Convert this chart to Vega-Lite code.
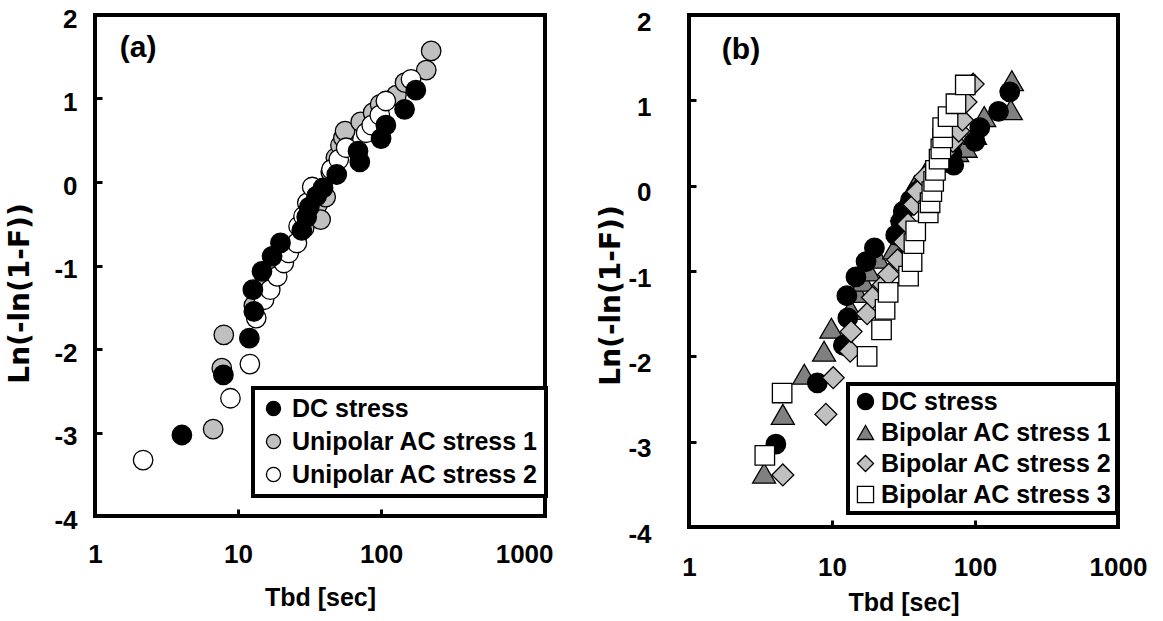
{
  "$schema": "https://vega.github.io/schema/vega-lite/v6.json",
  "background": "white",
  "padding": {"left": 4, "top": 4, "right": 0, "bottom": 0},
  "bounds": "flush",
  "spacing": 144,
  "datasets": {
    "a": [
      {"series": "Unipolar AC stress 1", "t": 6.7, "y": -2.96},
      {"series": "Unipolar AC stress 1", "t": 7.7, "y": -2.23},
      {"series": "Unipolar AC stress 1", "t": 7.95, "y": -1.83},
      {"series": "Unipolar AC stress 1", "t": 12.9, "y": -1.48},
      {"series": "Unipolar AC stress 1", "t": 15.3, "y": -1.12},
      {"series": "Unipolar AC stress 1", "t": 29, "y": -0.55},
      {"series": "Unipolar AC stress 1", "t": 33, "y": -0.35},
      {"series": "Unipolar AC stress 1", "t": 36, "y": -0.27},
      {"series": "Unipolar AC stress 1", "t": 37.8, "y": -0.45},
      {"series": "Unipolar AC stress 1", "t": 41, "y": -0.18},
      {"series": "Unipolar AC stress 1", "t": 44.5, "y": 0.12},
      {"series": "Unipolar AC stress 1", "t": 48.3, "y": 0.29},
      {"series": "Unipolar AC stress 1", "t": 52, "y": 0.44},
      {"series": "Unipolar AC stress 1", "t": 54.5, "y": 0.53},
      {"series": "Unipolar AC stress 1", "t": 56, "y": 0.61},
      {"series": "Unipolar AC stress 1", "t": 72, "y": 0.72},
      {"series": "Unipolar AC stress 1", "t": 88, "y": 0.83},
      {"series": "Unipolar AC stress 1", "t": 98.5, "y": 0.93},
      {"series": "Unipolar AC stress 1", "t": 128, "y": 1.04},
      {"series": "Unipolar AC stress 1", "t": 147, "y": 1.19},
      {"series": "Unipolar AC stress 1", "t": 207, "y": 1.34},
      {"series": "Unipolar AC stress 1", "t": 224, "y": 1.57},
      {"series": "Unipolar AC stress 2", "t": 2.17, "y": -3.33},
      {"series": "Unipolar AC stress 2", "t": 8.85, "y": -2.59},
      {"series": "Unipolar AC stress 2", "t": 12.1, "y": -2.18},
      {"series": "Unipolar AC stress 2", "t": 13.4, "y": -1.63},
      {"series": "Unipolar AC stress 2", "t": 15.2, "y": -1.41},
      {"series": "Unipolar AC stress 2", "t": 16.8, "y": -1.29},
      {"series": "Unipolar AC stress 2", "t": 18.8, "y": -1.13},
      {"series": "Unipolar AC stress 2", "t": 20.9, "y": -0.97},
      {"series": "Unipolar AC stress 2", "t": 22.6, "y": -0.85},
      {"series": "Unipolar AC stress 2", "t": 25.8, "y": -0.73},
      {"series": "Unipolar AC stress 2", "t": 26.5, "y": -0.53},
      {"series": "Unipolar AC stress 2", "t": 28.7, "y": -0.41},
      {"series": "Unipolar AC stress 2", "t": 30.5, "y": -0.25},
      {"series": "Unipolar AC stress 2", "t": 33, "y": -0.06},
      {"series": "Unipolar AC stress 2", "t": 45, "y": 0.15},
      {"series": "Unipolar AC stress 2", "t": 50.6, "y": 0.27},
      {"series": "Unipolar AC stress 2", "t": 57, "y": 0.41},
      {"series": "Unipolar AC stress 2", "t": 78.6, "y": 0.59},
      {"series": "Unipolar AC stress 2", "t": 86, "y": 0.68},
      {"series": "Unipolar AC stress 2", "t": 98, "y": 0.8},
      {"series": "Unipolar AC stress 2", "t": 108, "y": 0.97},
      {"series": "Unipolar AC stress 2", "t": 162, "y": 1.23},
      {"series": "DC stress", "t": 4.05, "y": -3.03},
      {"series": "DC stress", "t": 7.9, "y": -2.31},
      {"series": "DC stress", "t": 12.0, "y": -1.87},
      {"series": "DC stress", "t": 12.9, "y": -1.55},
      {"series": "DC stress", "t": 12.7, "y": -1.29},
      {"series": "DC stress", "t": 14.7, "y": -1.07},
      {"series": "DC stress", "t": 17.3, "y": -0.89},
      {"series": "DC stress", "t": 19.8, "y": -0.73},
      {"series": "DC stress", "t": 27.9, "y": -0.58},
      {"series": "DC stress", "t": 30.2, "y": -0.42},
      {"series": "DC stress", "t": 31.5, "y": -0.3},
      {"series": "DC stress", "t": 35.4, "y": -0.17},
      {"series": "DC stress", "t": 39.3, "y": -0.07},
      {"series": "DC stress", "t": 49, "y": 0.09},
      {"series": "DC stress", "t": 69, "y": 0.37},
      {"series": "DC stress", "t": 71, "y": 0.24},
      {"series": "DC stress", "t": 100, "y": 0.52},
      {"series": "DC stress", "t": 108, "y": 0.68},
      {"series": "DC stress", "t": 146, "y": 0.87},
      {"series": "DC stress", "t": 175, "y": 1.1}
    ],
    "b": [
      {"series": "Bipolar AC stress 1", "t": 3.35, "y": -3.37},
      {"series": "Bipolar AC stress 1", "t": 4.53, "y": -2.68},
      {"series": "Bipolar AC stress 1", "t": 6.4, "y": -2.21},
      {"series": "Bipolar AC stress 1", "t": 8.8, "y": -1.94},
      {"series": "Bipolar AC stress 1", "t": 9.9, "y": -1.67},
      {"series": "Bipolar AC stress 1", "t": 13.5, "y": -1.45},
      {"series": "Bipolar AC stress 1", "t": 15, "y": -1.25},
      {"series": "Bipolar AC stress 1", "t": 16.5, "y": -1.12},
      {"series": "Bipolar AC stress 1", "t": 18.1, "y": -1.0},
      {"series": "Bipolar AC stress 1", "t": 21, "y": -0.85},
      {"series": "Bipolar AC stress 1", "t": 27.2, "y": -0.74},
      {"series": "Bipolar AC stress 1", "t": 29, "y": -0.5},
      {"series": "Bipolar AC stress 1", "t": 31, "y": -0.3},
      {"series": "Bipolar AC stress 1", "t": 35, "y": -0.12},
      {"series": "Bipolar AC stress 1", "t": 38, "y": 0.0},
      {"series": "Bipolar AC stress 1", "t": 45, "y": 0.15},
      {"series": "Bipolar AC stress 1", "t": 55, "y": 0.28},
      {"series": "Bipolar AC stress 1", "t": 75, "y": 0.4},
      {"series": "Bipolar AC stress 1", "t": 86, "y": 0.45},
      {"series": "Bipolar AC stress 1", "t": 100, "y": 0.6},
      {"series": "Bipolar AC stress 1", "t": 116, "y": 0.81},
      {"series": "Bipolar AC stress 1", "t": 178, "y": 0.89},
      {"series": "Bipolar AC stress 1", "t": 181, "y": 1.23},
      {"series": "DC stress", "t": 4.05, "y": -3.03},
      {"series": "DC stress", "t": 7.9, "y": -2.31},
      {"series": "DC stress", "t": 12.0, "y": -1.87},
      {"series": "DC stress", "t": 12.9, "y": -1.55},
      {"series": "DC stress", "t": 12.7, "y": -1.29},
      {"series": "DC stress", "t": 14.7, "y": -1.07},
      {"series": "DC stress", "t": 17.3, "y": -0.89},
      {"series": "DC stress", "t": 19.8, "y": -0.73},
      {"series": "DC stress", "t": 27.9, "y": -0.58},
      {"series": "DC stress", "t": 30.2, "y": -0.42},
      {"series": "DC stress", "t": 31.5, "y": -0.3},
      {"series": "DC stress", "t": 35.4, "y": -0.17},
      {"series": "DC stress", "t": 39.3, "y": -0.07},
      {"series": "DC stress", "t": 49, "y": 0.09},
      {"series": "DC stress", "t": 69, "y": 0.37},
      {"series": "DC stress", "t": 71, "y": 0.24},
      {"series": "DC stress", "t": 100, "y": 0.52},
      {"series": "DC stress", "t": 108, "y": 0.68},
      {"series": "DC stress", "t": 146, "y": 0.87},
      {"series": "DC stress", "t": 175, "y": 1.1},
      {"series": "Bipolar AC stress 2", "t": 4.53, "y": -3.39},
      {"series": "Bipolar AC stress 2", "t": 9.06, "y": -2.68},
      {"series": "Bipolar AC stress 2", "t": 10.2, "y": -2.25},
      {"series": "Bipolar AC stress 2", "t": 13.4, "y": -1.94},
      {"series": "Bipolar AC stress 2", "t": 13.6, "y": -1.71},
      {"series": "Bipolar AC stress 2", "t": 17.6, "y": -1.5},
      {"series": "Bipolar AC stress 2", "t": 19.2, "y": -1.31},
      {"series": "Bipolar AC stress 2", "t": 22.9, "y": -1.16},
      {"series": "Bipolar AC stress 2", "t": 24.9, "y": -1.04},
      {"series": "Bipolar AC stress 2", "t": 28.8, "y": -0.87},
      {"series": "Bipolar AC stress 2", "t": 32, "y": -0.66},
      {"series": "Bipolar AC stress 2", "t": 34, "y": -0.45},
      {"series": "Bipolar AC stress 2", "t": 37.4, "y": -0.22},
      {"series": "Bipolar AC stress 2", "t": 39.6, "y": -0.07},
      {"series": "Bipolar AC stress 2", "t": 44.5, "y": 0.1},
      {"series": "Bipolar AC stress 2", "t": 55, "y": 0.25},
      {"series": "Bipolar AC stress 2", "t": 61, "y": 0.39},
      {"series": "Bipolar AC stress 2", "t": 70, "y": 0.52},
      {"series": "Bipolar AC stress 2", "t": 77, "y": 0.64},
      {"series": "Bipolar AC stress 2", "t": 81.7, "y": 0.77},
      {"series": "Bipolar AC stress 2", "t": 86.5, "y": 0.98},
      {"series": "Bipolar AC stress 2", "t": 97, "y": 1.19},
      {"series": "Bipolar AC stress 3", "t": 3.39, "y": -3.16},
      {"series": "Bipolar AC stress 3", "t": 4.48, "y": -2.43},
      {"series": "Bipolar AC stress 3", "t": 17.6, "y": -2.0},
      {"series": "Bipolar AC stress 3", "t": 22.2, "y": -1.69},
      {"series": "Bipolar AC stress 3", "t": 23.5, "y": -1.45},
      {"series": "Bipolar AC stress 3", "t": 24.7, "y": -1.25},
      {"series": "Bipolar AC stress 3", "t": 34.3, "y": -1.06},
      {"series": "Bipolar AC stress 3", "t": 36.3, "y": -0.89},
      {"series": "Bipolar AC stress 3", "t": 37.4, "y": -0.68},
      {"series": "Bipolar AC stress 3", "t": 38.5, "y": -0.53},
      {"series": "Bipolar AC stress 3", "t": 47.1, "y": -0.32},
      {"series": "Bipolar AC stress 3", "t": 48.5, "y": -0.2},
      {"series": "Bipolar AC stress 3", "t": 49.9, "y": -0.07},
      {"series": "Bipolar AC stress 3", "t": 51.4, "y": 0.05},
      {"series": "Bipolar AC stress 3", "t": 52.9, "y": 0.18},
      {"series": "Bipolar AC stress 3", "t": 56.1, "y": 0.31},
      {"series": "Bipolar AC stress 3", "t": 57.7, "y": 0.43},
      {"series": "Bipolar AC stress 3", "t": 59.4, "y": 0.56},
      {"series": "Bipolar AC stress 3", "t": 59.4, "y": 0.68},
      {"series": "Bipolar AC stress 3", "t": 64.8, "y": 0.81},
      {"series": "Bipolar AC stress 3", "t": 73.6, "y": 0.96},
      {"series": "Bipolar AC stress 3", "t": 85.5, "y": 1.18}
    ]
  },
  "hconcat": [
    {
      "width": 450,
      "height": 501,
      "layer": [
        {
          "data": {"name": "a"},
          "mark": {"type": "point", "filled": true, "strokeWidth": 1.3, "opacity": 1, "size": 380},
          "encoding": {
            "x": {"field": "t", "type": "quantitative",
              "scale": {"type": "log", "domain": [1, 1400], "nice": false},
              "axis": {"values": [1, 10, 100, 1000], "labelExpr": "'' + datum.value", "title": "Tbd [sec]", "labelPadding": 32, "titlePadding": 18,
                "tickOpacity": {"condition": {"test": "datum.value === 1000", "value": 0}, "value": 1}}},
            "y": {"field": "y", "type": "quantitative",
              "scale": {"domain": [-4, 2], "nice": false, "zero": false},
              "axis": {"values": [-4, -3, -2, -1, 0, 1, 2], "labelExpr": "'' + datum.value", "title": "Ln(-ln(1-F))", "titleFont": "DejaVu Sans", "titleFontSize": 28, "titleY": 278, "labelPadding": 25, "labelOffset": 4, "titlePadding": 19}},
            "fill": {"field": "series", "type": "nominal",
              "scale": {"domain": ["DC stress", "Unipolar AC stress 1", "Unipolar AC stress 2"], "range": ["black", "#c0c0c0", "white"]},
              "legend": {"orient": "none", "legendX": 158, "legendY": 373, "title": null, "padding": 8, "rowPadding": 7, "symbolSize": 200, "labelOffset": 6, "symbolStrokeWidth": 1.3}},
            "shape": {"field": "series", "type": "nominal",
              "scale": {"domain": ["DC stress", "Unipolar AC stress 1", "Unipolar AC stress 2"], "range": ["circle", "circle", "circle"]},
              "legend": {"orient": "none", "legendX": 158, "legendY": 373, "title": null, "padding": 8, "rowPadding": 7, "symbolSize": 200, "labelOffset": 6, "symbolStrokeWidth": 1.3}},
            "stroke": {"field": "series", "type": "nominal",
              "scale": {"domain": ["DC stress", "Unipolar AC stress 1", "Unipolar AC stress 2"], "range": ["black", "black", "black"]},
              "legend": {"orient": "none", "legendX": 158, "legendY": 373, "title": null, "padding": 8, "rowPadding": 7, "symbolSize": 200, "labelOffset": 6, "symbolStrokeWidth": 1.3}}
          }
        },
        {
          "data": {"values": [{}]},
          "mark": {"type": "text", "fontSize": 30, "fontWeight": "bold", "font": "Liberation Sans", "align": "center", "baseline": "middle", "color": "black"},
          "encoding": {"x": {"datum": 2.0}, "y": {"datum": 1.6}, "text": {"value": "(a)"}}
        }
      ]
    },
    {
      "width": 429,
      "height": 512,
      "layer": [
        {
          "data": {"name": "b"},
          "encoding": {
            "x": {"field": "t", "type": "quantitative",
              "scale": {"type": "log", "domain": [1, 1000], "nice": false},
              "axis": {"values": [1, 10, 100, 1000], "labelExpr": "'' + datum.value", "title": "Tbd [sec]", "labelPadding": 34, "titlePadding": 10}},
            "y": {"field": "y", "type": "quantitative",
              "scale": {"domain": [-4, 2], "nice": false, "zero": false},
              "axis": {"values": [-4, -3, -2, -1, 0, 1, 2], "labelExpr": "'' + datum.value", "title": "Ln(-ln(1-F))", "titleFont": "DejaVu Sans", "titleFontSize": 28, "titleY": 280, "labelPadding": 45, "labelOffset": 7, "titlePadding": 2}},
            "fill": {"field": "series", "type": "nominal",
              "scale": {"domain": ["DC stress", "Bipolar AC stress 1", "Bipolar AC stress 2", "Bipolar AC stress 3"], "range": ["black", "#808080", "#c0c0c0", "white"]},
              "legend": {"orient": "none", "legendX": 159, "legendY": 369, "title": null, "padding": 5, "rowPadding": 5, "symbolSize": 260, "labelOffset": 3, "symbolStrokeWidth": 1.3}},
            "shape": {"field": "series", "type": "nominal",
              "scale": {"domain": ["DC stress", "Bipolar AC stress 1", "Bipolar AC stress 2", "Bipolar AC stress 3"], "range": ["circle", "triangle-up", "diamond", "square"]},
              "legend": {"orient": "none", "legendX": 159, "legendY": 369, "title": null, "padding": 5, "rowPadding": 5, "symbolSize": 260, "labelOffset": 3, "symbolStrokeWidth": 1.3}},
            "stroke": {"field": "series", "type": "nominal",
              "scale": {"domain": ["DC stress", "Bipolar AC stress 1", "Bipolar AC stress 2", "Bipolar AC stress 3"], "range": ["black", "black", "black", "black"]},
              "legend": {"orient": "none", "legendX": 159, "legendY": 369, "title": null, "padding": 5, "rowPadding": 5, "symbolSize": 260, "labelOffset": 3, "symbolStrokeWidth": 1.3}}
          },
          "layer": [
            {
              "transform": [{"filter": "datum.series === 'Bipolar AC stress 1'"}],
              "mark": {"type": "point", "filled": true, "strokeWidth": 1.3, "opacity": 1, "size": 530}
            },
            {
              "transform": [{"filter": "datum.series === 'DC stress'"}],
              "mark": {"type": "point", "filled": true, "strokeWidth": 1.3, "opacity": 1, "size": 380}
            },
            {
              "transform": [{"filter": "datum.series === 'Bipolar AC stress 2'"}],
              "mark": {"type": "point", "filled": true, "strokeWidth": 1.3, "opacity": 1, "size": 480}
            },
            {
              "transform": [{"filter": "datum.series === 'Bipolar AC stress 3'"}],
              "mark": {"type": "point", "filled": true, "strokeWidth": 1.3, "opacity": 1, "size": 380}
            }
          ]
        },
        {
          "data": {"values": [{}]},
          "mark": {"type": "text", "fontSize": 30, "fontWeight": "bold", "font": "Liberation Sans", "align": "center", "baseline": "middle", "color": "black"},
          "encoding": {"x": {"datum": 2.31}, "y": {"datum": 1.59}, "text": {"value": "(b)"}}
        }
      ]
    }
  ],
  "resolve": {
    "scale": {"fill": "independent", "shape": "independent", "stroke": "independent", "x": "independent", "y": "independent"},
    "legend": {"fill": "independent", "shape": "independent", "stroke": "independent"}
  },
  "config": {
    "font": "Liberation Sans",
    "view": {"stroke": "black", "strokeWidth": 4},
    "axis": {
      "domain": false, "grid": false,
      "tickColor": "black", "tickWidth": 3, "tickSize": -7,
      "labelFont": "Liberation Sans", "labelFontWeight": "bold", "labelFontSize": 26, "labelColor": "black",
      "titleFont": "Liberation Sans", "titleFontWeight": "bold", "titleFontSize": 25, "titleColor": "black",
      "labelFlush": false, "labelOverlap": false, "labelBound": false
    },
    "legend": {
      "strokeColor": "black", "strokeWidth": 4, "fillColor": "white",
      "labelFont": "Liberation Sans", "labelFontWeight": "bold", "labelFontSize": 25, "labelColor": "black",
      "labelLimit": 400
    }
  }
}
